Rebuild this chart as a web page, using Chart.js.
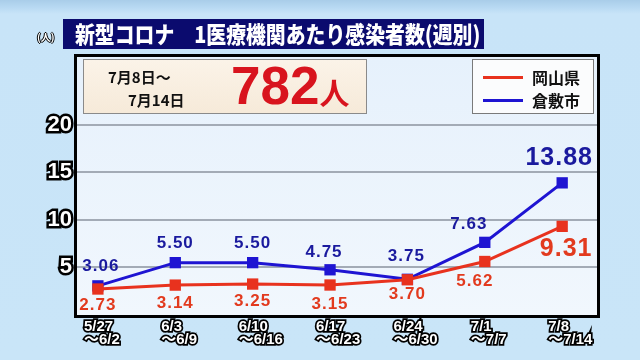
<!DOCTYPE html>
<html>
<head>
<meta charset="utf-8">
<script src="https://cdn.jsdelivr.net/npm/chart.js@4/dist/chart.umd.min.js"></script>
<style>
  html, body { margin: 0; padding: 0; }
  body {
    width: 640px; height: 360px; overflow: hidden; position: relative;
    background: linear-gradient(#a9cde9 0px, #b9daf3 8px, #c8e4f8 14px, #c9e5f8 100%);
    font-family: "Noto Sans CJK JP", "Noto Sans", sans-serif;
  }
  #wrap { position: absolute; left: 0; top: 0; width: 640px; height: 360px; }
  #title {
    position: absolute; left: 63px; top: 19px; width: 421px; height: 30px;
    background: #0b0b6e; overflow: hidden;
  }
  #title span {
    position: absolute; left: 12px; top: -2px; white-space: nowrap;
    color: #fff; font-weight: 900; font-size: 23px; line-height: 32px;
    transform-origin: left center;
  }
  #unit {
    position: absolute; left: 37px; top: 29px; font-size: 10px; font-weight: bold;
    color: #fff; text-shadow: 1px 0 #000, -1px 0 #000, 0 1px #000, 0 -1px #000;
  }
  #infoBox {
    position: absolute; left: 83px; top: 59px; width: 282px; height: 53px;
    background: linear-gradient(#fbf3e8, #f6ead9); border: 1px solid #8a8a8a;
  }
  .dt { position: absolute; font-weight: bold; font-size: 15px; color: #111; line-height: 18px; white-space: nowrap; }
  #total {
    position: absolute; left: 147px; top: -4px; white-space: nowrap; color: #d8141e; font-weight: bold;
  }
  #total .num { font-family: "Liberation Sans", Arial, sans-serif; font-size: 53px; line-height: 60px; }
  #total .unit { font-size: 30px; }
  #legendBox {
    position: absolute; left: 472px; top: 59px; width: 120px; height: 53px;
    background: #fbfcfd; border: 1px solid #7a7a7a;
  }
  .lg { position: absolute; left: 10px; width: 40px; height: 3px; }
  .lt { position: absolute; left: 59px; font-weight: bold; font-size: 16px; line-height: 20px; color: #111; }
</style>
</head>
<body>
<div id="wrap"><canvas id="chart" width="640" height="360"></canvas></div>
<div id="unit">(人)</div>
<div id="title"><span id="titleText">新型コロナ　1医療機関あたり感染者数(週別)</span></div>
<div id="infoBox">
  <div class="dt" style="left:24px; top:8px;">7月8日～</div>
  <div class="dt" style="left:44px; top:31px;">7月14日</div>
  <div id="total"><span class="num">782</span><span class="unit">人</span></div>
</div>
<div id="legendBox">
  <div class="lg" style="top:16px; background:#e8321e;"></div>
  <div class="lt" style="top:7px;">岡山県</div>
  <div class="lg" style="top:39px; background:#1e14d2;"></div>
  <div class="lt" style="top:30px;">倉敷市</div>
</div>
<script>
// ---------- DATA ----------
const weekStart = ["5/27", "6/3", "6/10", "6/17", "6/24", "7/1", "7/8"];
const weekEnd = ["～6/2", "～6/9", "～6/16", "～6/23", "～6/30", "～7/7", "～7/14"];
const okayama = [2.73, 3.14, 3.25, 3.15, 3.70, 5.62, 9.31];
const kurashiki = [3.06, 5.50, 5.50, 4.75, 3.75, 7.63, 13.88];
const yTicks = [5, 10, 15, 20];

// squeeze title to the bar width
const tt = document.getElementById("titleText");
tt.style.transform = `scaleX(${405 / tt.offsetWidth})`;

// label placement (offset from the point, px)
const blueOff = [[3,-20],[0,-19],[0,-19],[-6,-17],[-1,-23],[-16,-18],[-3,-25]];
const redOff = [[0,16],[0,18],[0,17],[0,19],[0,15],[-10,20],[4,23]];

const RED = "#e8321e", BLUE = "#1e14d2";

const framePlugin = {
  id: "frame",
  beforeDraw(chart) {
    const { ctx, chartArea: a } = chart;
    ctx.save();
    const g = ctx.createLinearGradient(0, a.top, 0, a.bottom);
    g.addColorStop(0, "#e6f1fc");
    g.addColorStop(1, "#f1f7fd");
    ctx.fillStyle = g;
    ctx.fillRect(a.left, a.top, a.right - a.left, a.bottom - a.top);
    ctx.restore();
  },
  afterDraw(chart) {
    const { ctx, chartArea: a } = chart;
    ctx.save();
    ctx.strokeStyle = "#000";
    ctx.lineWidth = 3;
    ctx.strokeRect(a.left - 1.5, a.top - 1.5, a.right - a.left + 3, a.bottom - a.top + 3);
    ctx.restore();
  }
};

const valueLabels = {
  id: "valueLabels",
  afterDatasetsDraw(chart) {
    const { ctx } = chart;
    ctx.save();
    ctx.textAlign = "center";
    ctx.textBaseline = "middle";
    ctx.letterSpacing = "1px";
    chart.data.datasets.forEach((ds, di) => {
      const meta = chart.getDatasetMeta(di);
      const offs = di === 0 ? redOff : blueOff;
      meta.data.forEach((pt, i) => {
        const big = i === ds.data.length - 1;
        ctx.font = `bold ${big ? 25 : 17}px "Liberation Sans", Arial, sans-serif`;
        ctx.fillStyle = di === 0 ? "#e23a1e" : "#1a1a9e";
        ctx.fillText(ds.data[i].y.toFixed(2), pt.x + offs[i][0], pt.y + offs[i][1]);
      });
    });
    ctx.restore();
  }
};

new Chart(document.getElementById("chart"), {
  type: "line",
  data: {
    datasets: [
      { label: "岡山県", data: okayama.map((v, i) => ({ x: i, y: v })), borderColor: RED, backgroundColor: RED,
        borderWidth: 3, pointStyle: "rect", pointRadius: 8, pointBorderWidth: 0 },
      { label: "倉敷市", data: kurashiki.map((v, i) => ({ x: i, y: v })), borderColor: BLUE, backgroundColor: BLUE,
        borderWidth: 3, pointStyle: "rect", pointRadius: 8, pointBorderWidth: 0 }
    ]
  },
  options: {
    responsive: false,
    animation: false,
    layout: { autoPadding: false, padding: { left: 0, top: 57, right: 43, bottom: 0 } },
    plugins: { legend: { display: false }, tooltip: { enabled: false } },
    scales: {
      x: {
        type: "linear", min: -0.27, max: 6.45,
        afterFit: s => { s.height = 45; },
        afterBuildTicks: s => { s.ticks = weekStart.map((_, i) => ({ value: i })); },
        grid: { display: false, drawTicks: false }, border: { display: false },
        ticks: {
          autoSkip: false, maxRotation: 0, padding: 5, labelOffset: -14, align: "start",
          color: "#fff", textStrokeColor: "#000", textStrokeWidth: 3.5,
          font: { family: "'Liberation Sans', 'Noto Sans CJK JP'", weight: "bold", size: 15, lineHeight: 0.87 },
          callback: v => [weekStart[v], weekEnd[v]]
        }
      },
      y: {
        min: 0, max: 27.1,
        afterFit: s => { s.width = 77; },
        afterBuildTicks: s => { s.ticks = yTicks.map(v => ({ value: v })); },
        border: { display: false },
        grid: { color: "#a3abb6", lineWidth: 2, drawTicks: false },
        ticks: {
          padding: 5, color: "#fff", textStrokeColor: "#000", textStrokeWidth: 5,
          font: { family: "'Liberation Sans', Arial", weight: "bold", size: 22 }
        }
      }
    }
  },
  plugins: [framePlugin, valueLabels]
});
</script>
</body>
</html>
